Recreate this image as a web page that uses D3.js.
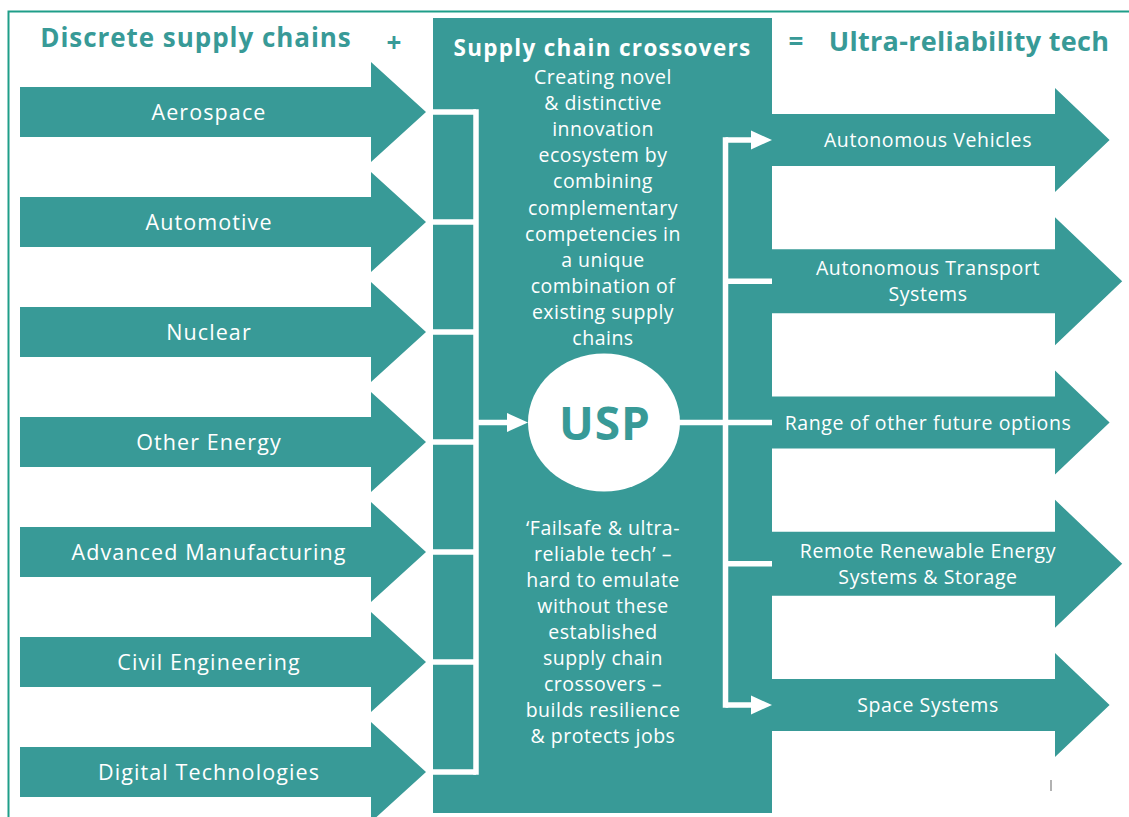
<!DOCTYPE html>
<html>
<head>
<meta charset="utf-8">
<script src="https://cdn.jsdelivr.net/npm/d3@7"></script>
<style>
  html, body { margin: 0; padding: 0; background: #fff; }
  svg { display: block; font-family: "Open Sans", sans-serif; }
</style>
</head>
<body>
<svg id="chart"></svg>
<script>
// Supply chain crossovers – Flussdiagramm mit Pfeilen links/rechts

const width = 1129, height = 817;

const sources = ["Aerospace", "Automotive", "Nuclear", "Other Energy",
  "Advanced Manufacturing", "Civil Engineering", "Digital Technologies"];

// "|" = Zeilenumbruch
const outcomes = ["Autonomous Vehicles", "Autonomous Transport|Systems",
  "Range of other future options", "Remote Renewable Energy|Systems & Storage",
  "Space Systems"];

const headers = ["Discrete supply chains", "Supply chain crossovers", "Ultra-reliability tech"];
const operators = ["+", "="];

const crossoverLines = ["Creating novel", "& distinctive", "innovation", "ecosystem by",
  "combining", "complementary", "competencies in", "a unique", "combination of",
  "existing supply", "chains"];

const uspLabel = "USP";

const uspLines = ["\u2018Failsafe & ultra-", "reliable tech\u2019 \u2013", "hard to emulate",
  "without these", "established", "supply chain", "crossovers \u2013",
  "builds resilience", "& protects jobs"];

const teal = "#389a97";
const border = "#1f9e89";

const svg = d3.select("#chart")
  .attr("width", width)
  .attr("height", height)
  .attr("viewBox", `0 0 ${width} ${height}`);

// Rahmen (oben + links)
svg.append("path")
  .attr("d", `M8.5,${height} V11.5 H${width}`)
  .attr("fill", "none")
  .attr("stroke", border)
  .attr("stroke-width", 2);

const box = { x0: 433, x1: 772, y0: 18, y1: 813 };
const midX = (box.x0 + box.x1) / 2;

const yLeft = d3.scalePoint().domain(sources).range([112, 772]);
const yRight = d3.scalePoint().domain(outcomes).range([140, 705]);

function arrowPath(x0, xBase, cy, bh, hh, len) {
  return `M${x0},${cy - bh}H${xBase}V${cy - hh}L${xBase + len},${cy}` +
    `L${xBase},${cy + hh}V${cy + bh}H${x0}Z`;
}

// linke Pfeile
const left = svg.append("g");
left.selectAll("path")
  .data(sources)
  .join("path")
  .attr("d", d => arrowPath(20, 371, yLeft(d), 25, 50, 55))
  .attr("fill", teal);

left.selectAll("text")
  .data(sources)
  .join("text")
  .attr("x", 209)
  .attr("y", d => yLeft(d) + 7.5)
  .attr("text-anchor", "middle")
  .attr("fill", "#fff")
  .attr("font-size", 21.5)
  .attr("letter-spacing", 1.1)
  .text(d => d);

// Mittelblock
svg.append("rect")
  .attr("x", box.x0).attr("y", box.y0)
  .attr("width", box.x1 - box.x0).attr("height", box.y1 - box.y0)
  .attr("fill", teal);

// rechte Pfeile
const bodyHalf = d => d.includes("|") ? 32 : 26;
const right = svg.append("g");
right.selectAll("path")
  .data(outcomes)
  .join("path")
  .attr("d", d => {
    const bh = bodyHalf(d), hh = bh * 2;
    return arrowPath(box.x1 - 1, 1055, yRight(d), bh, hh, hh * 1.05);
  })
  .attr("fill", teal);

right.selectAll("text")
  .data(outcomes)
  .join("text")
  .attr("text-anchor", "middle")
  .attr("fill", "#fff")
  .attr("font-size", 19.5)
  .attr("letter-spacing", 0.6)
  .each(function(d) {
    const lines = d.split("|");
    const y0 = yRight(d) + 7 - (lines.length - 1) * 13;
    d3.select(this).selectAll("tspan")
      .data(lines)
      .join("tspan")
      .attr("x", 928)
      .attr("y", (l, i) => y0 + i * 26)
      .text(l => l);
  });

// Klammer links
const lw = 5.5;
const bx = 476;
const cy = yRight(outcomes[2]);
const lines = svg.append("g")
  .attr("stroke", "#fff")
  .attr("stroke-width", lw)
  .attr("fill", "none");

lines.selectAll("path.h")
  .data(sources)
  .join("path")
  .attr("class", "h")
  .attr("d", d => `M${box.x0},${yLeft(d)}H${bx}`);

lines.append("path")
  .attr("d", `M${bx},${yLeft(sources[0]) - lw / 2}V${yLeft(sources[sources.length - 1]) + lw / 2}`);

lines.append("path").attr("d", `M${bx},${cy}H${510}`);

// Klammer rechts
const rx = 725.5;
lines.append("path")
  .attr("d", `M${rx},${yRight(outcomes[0]) - lw / 2}V${yRight(outcomes[outcomes.length - 1]) + lw / 2}`);

lines.selectAll("path.r")
  .data(outcomes)
  .join("path")
  .attr("class", "r")
  .attr("d", (d, i) => {
    const y = yRight(d);
    if (i === 2) return `M${679},${y}H${box.x1}`;
    if (i === 0 || i === outcomes.length - 1) return `M${rx},${y}H${754}`;
    return `M${rx},${y}H${box.x1}`;
  });

// kleine weiße Pfeilspitzen
const heads = [
  { tip: 528, y: cy },
  { tip: box.x1, y: yRight(outcomes[0]) },
  { tip: box.x1, y: yRight(outcomes[outcomes.length - 1]) }
];
svg.append("g").selectAll("path")
  .data(heads)
  .join("path")
  .attr("d", d => `M${d.tip - 21},${d.y - 9.5}L${d.tip},${d.y}L${d.tip - 21},${d.y + 9.5}Z`)
  .attr("fill", "#fff");

// USP-Kreis
svg.append("ellipse")
  .attr("cx", 604).attr("cy", cy)
  .attr("rx", 76).attr("ry", 69)
  .attr("fill", "#fff");

svg.append("text")
  .attr("x", 605).attr("y", cy + 17)
  .attr("text-anchor", "middle")
  .attr("fill", teal)
  .attr("font-size", 46)
  .attr("font-weight", 700)
  .attr("letter-spacing", 1)
  .text(uspLabel);

// Texte im Mittelblock
svg.append("text")
  .attr("x", midX).attr("y", 56)
  .attr("text-anchor", "middle")
  .attr("fill", "#fff")
  .attr("font-size", 22.5)
  .attr("font-weight", 700)
  .attr("letter-spacing", 1.3)
  .text(headers[1]);

svg.append("g").selectAll("text")
  .data(crossoverLines)
  .join("text")
  .attr("x", 603)
  .attr("y", (d, i) => 84 + i * 26.1)
  .attr("text-anchor", "middle")
  .attr("fill", "#fff")
  .attr("font-size", 19.5)
  .attr("letter-spacing", 0.5)
  .text(d => d);

svg.append("g").selectAll("text")
  .data(uspLines)
  .join("text")
  .attr("x", 603)
  .attr("y", (d, i) => 535 + i * 26)
  .attr("text-anchor", "middle")
  .attr("fill", "#fff")
  .attr("font-size", 19.5)
  .attr("letter-spacing", 0.5)
  .text(d => d);

// Überschriften
svg.append("text")
  .attr("x", 196).attr("y", 47)
  .attr("text-anchor", "middle")
  .attr("fill", teal)
  .attr("font-size", 26)
  .attr("font-weight", 700)
  .attr("letter-spacing", 0.95)
  .text(headers[0]);

svg.append("text")
  .attr("x", 969).attr("y", 51)
  .attr("text-anchor", "middle")
  .attr("fill", teal)
  .attr("font-size", 27)
  .attr("font-weight", 700)
  .attr("letter-spacing", 0.3)
  .text(headers[2]);

svg.selectAll("text.op")
  .data(operators)
  .join("text")
  .attr("class", "op")
  .attr("x", (d, i) => i === 0 ? 394 : 796)
  .attr("y", (d, i) => i === 0 ? 52 : 51)
  .attr("text-anchor", "middle")
  .attr("fill", teal)
  .attr("font-size", 26)
  .attr("font-weight", 700)
  .text(d => d);

// kleiner grauer Strich unten rechts
svg.append("line")
  .attr("x1", 1051).attr("x2", 1051)
  .attr("y1", 780).attr("y2", 791)
  .attr("stroke", "#999")
  .attr("stroke-width", 1.5);
</script>
</body>
</html>
